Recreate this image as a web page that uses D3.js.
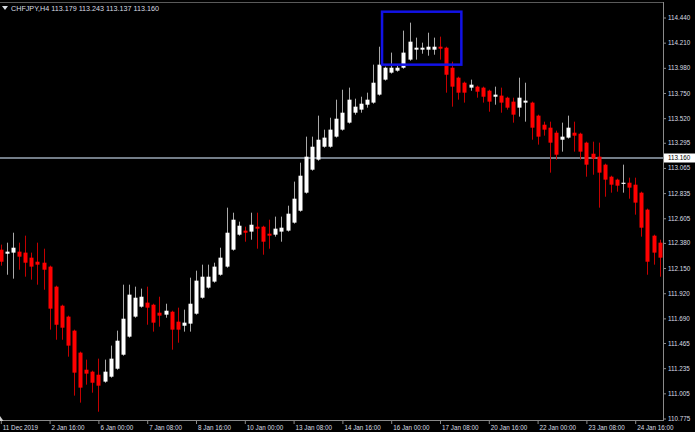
<!DOCTYPE html>
<html>
<head>
<meta charset="utf-8">
<script src="https://cdn.jsdelivr.net/npm/d3@7"></script>
<style>
  html, body { margin: 0; padding: 0; background: #000; }
  svg { display: block; }
</style>
</head>
<body>
<svg id="chart" width="695" height="432"></svg>
<script>
// ---- DATA (CHFJPY, H4) ----
const symbol = "CHFJPY,H4";
const headerValues = ["113.179", "113.243", "113.137", "113.160"];

const opens = [112.318,112.281,112.291,112.300,112.291,112.245,112.208,112.199,112.163,111.980,
111.806,111.706,111.578,111.377,111.221,111.203,111.175,111.112,111.157,111.230,
111.358,111.523,111.706,111.797,111.834,111.815,111.742,111.724,111.751,111.660,
111.623,111.642,111.733,111.879,111.971,112.026,112.089,112.163,112.318,112.455,
112.492,112.483,112.528,112.528,112.464,112.455,112.483,112.492,112.565,112.674,
112.839,113.049,113.141,113.259,113.259,113.351,113.415,113.479,113.570,113.598,
113.643,113.662,113.735,113.872,113.936,113.954,113.981,114.055,114.146,114.146,
114.146,114.146,114.173,114.164,113.981,113.890,113.844,113.799,113.808,113.799,
113.771,113.716,113.726,113.707,113.671,113.616,113.662,113.662,113.543,113.460,
113.433,113.387,113.323,113.342,113.387,113.378,113.296,113.195,113.168,113.095,
112.985,112.958,112.921,112.930,112.912,112.839,112.684,112.446,112.382];

const highs = [112.364,112.382,112.473,112.382,112.446,112.291,112.382,112.327,112.172,111.989,
111.815,111.715,111.587,111.386,111.313,111.212,111.322,111.313,111.441,111.578,
111.998,111.998,111.980,111.962,111.980,111.824,111.888,111.824,111.760,111.788,
111.770,112.062,112.126,112.181,112.181,112.199,112.336,112.702,112.656,112.574,
112.528,112.656,112.656,112.537,112.592,112.620,112.620,112.720,112.940,113.113,
113.351,113.351,113.543,113.415,113.524,113.689,113.780,113.799,113.698,113.716,
113.753,114.009,114.173,113.991,114.119,114.000,114.320,114.393,114.256,114.210,
114.301,114.256,114.265,114.173,114.036,113.899,113.854,113.872,113.817,113.808,
113.780,113.808,113.799,113.716,113.707,113.890,113.844,113.671,113.552,113.488,
113.488,113.406,113.479,113.543,113.488,113.387,113.305,113.305,113.296,113.104,
112.994,112.967,113.095,112.976,112.976,112.848,112.693,112.455,112.409];

const lows = [112.172,112.089,112.053,112.135,112.071,112.044,111.998,111.952,111.587,111.495,
111.495,111.340,110.984,110.920,111.084,111.011,110.837,111.102,111.148,111.221,
111.349,111.514,111.696,111.788,111.632,111.569,111.614,111.696,111.404,111.468,
111.569,111.569,111.724,111.870,111.962,112.016,112.080,112.153,112.309,112.446,
112.391,112.409,112.327,112.272,112.327,112.437,112.391,112.483,112.556,112.665,
112.830,113.040,113.131,113.250,113.250,113.342,113.406,113.470,113.552,113.570,
113.616,113.652,113.726,113.863,113.927,113.945,113.972,114.045,114.055,114.109,
114.091,114.100,114.055,113.753,113.625,113.689,113.662,113.771,113.707,113.662,
113.579,113.643,113.570,113.598,113.479,113.534,113.488,113.323,113.278,113.360,
113.022,113.141,113.214,113.333,113.214,113.141,112.985,113.003,112.702,112.802,
112.839,112.848,112.839,112.784,112.638,112.437,112.089,112.181,112.071];

const closes = [112.208,112.300,112.336,112.254,112.199,112.163,112.181,112.135,111.779,111.632,
111.605,111.441,111.194,111.057,111.185,111.102,111.075,111.203,111.322,111.486,
111.687,111.907,111.879,111.888,111.788,111.651,111.715,111.760,111.587,111.587,
111.651,111.824,112.035,112.071,112.071,112.163,112.245,112.473,112.592,112.537,
112.473,112.546,112.510,112.391,112.446,112.510,112.519,112.647,112.784,112.994,
113.168,113.259,113.323,113.342,113.415,113.515,113.570,113.689,113.625,113.652,
113.689,113.844,114.009,113.981,113.981,113.981,114.119,114.219,114.164,114.164,
114.173,114.173,114.155,113.917,113.808,113.753,113.753,113.826,113.762,113.716,
113.671,113.735,113.662,113.616,113.552,113.707,113.680,113.433,113.351,113.415,
113.296,113.186,113.351,113.433,113.360,113.214,113.095,113.150,113.022,112.958,
112.912,112.903,112.930,112.885,112.748,112.519,112.208,112.291,112.245];

const priceTicks = [114.440,114.210,113.980,113.750,113.520,113.295,113.065,112.835,
  112.605,112.380,112.150,111.920,111.690,111.465,111.235,111.005,110.775];

const timeTickBars = [0,8,16,24,32,40,48,56,64,72,80,88,96,104];
const timeTickLabels = ["11 Dec 2019","2 Jan 16:00","6 Jan 00:00","7 Jan 08:00","8 Jan 16:00",
  "10 Jan 00:00","13 Jan 08:00","14 Jan 16:00","16 Jan 00:00","17 Jan 08:00",
  "20 Jan 16:00","22 Jan 00:00","23 Jan 08:00","24 Jan 16:00"];

const currentPrice = 113.160;
const boxBars = [62.5, 75.5];
const boxPrices = [114.493, 114.009];

// ---- CHART ----
const W = 695, H = 432;
const plotRight = 663, plotBottom = 420;
const svg = d3.select("#chart");
svg.append("rect").attr("width", W).attr("height", H).attr("fill", "#000");

const n = opens.length;
const x = d3.scaleLinear().domain([0, n - 1]).range([0.8, 659.6]);
const y = d3.scaleLinear().domain([110.775, 114.440]).range([418.5, 17.5]);

const font = "'Liberation Sans', Arial, sans-serif";
const textColor = "#d9dde3";
const frameColor = "#8a8a8a";

// frame lines
svg.append("line").attr("x1", 0).attr("x2", plotRight).attr("y1", 2.5).attr("y2", 2.5)
  .attr("stroke", "#5a5a5a").attr("stroke-width", 1);
svg.append("line").attr("x1", plotRight + 0.5).attr("x2", plotRight + 0.5).attr("y1", 2).attr("y2", plotBottom + 1)
  .attr("stroke", frameColor).attr("stroke-width", 1);
svg.append("line").attr("x1", 0).attr("x2", plotRight + 1).attr("y1", plotBottom + 0.5).attr("y2", plotBottom + 0.5)
  .attr("stroke", frameColor).attr("stroke-width", 1);

// current price line
const cpY = Math.round(y(currentPrice));
svg.append("line").attr("x1", 0).attr("x2", plotRight).attr("y1", cpY).attr("y2", cpY)
  .attr("stroke", "#737d88").attr("stroke-width", 2);

// candles
const data = d3.range(n).map(i => ({i, o: opens[i], h: highs[i], l: lows[i], c: closes[i]}));
const g = svg.append("g");
const cg = g.selectAll("g.candle").data(data).join("g").attr("class", "candle");
cg.append("line")
  .attr("x1", d => Math.round(x(d.i)) + 0.5)
  .attr("x2", d => Math.round(x(d.i)) + 0.5)
  .attr("y1", d => y(d.h))
  .attr("y2", d => y(d.l))
  .attr("stroke", d => d.c >= d.o ? "#a9a9a9" : "#c40000")
  .attr("stroke-width", 1);
cg.append("rect")
  .attr("x", d => Math.round(x(d.i)) - 1.5)
  .attr("width", 4)
  .attr("y", d => Math.min(y(d.o), y(d.c)))
  .attr("height", d => Math.max(1.2, Math.abs(y(d.o) - y(d.c))))
  .attr("fill", d => d.c >= d.o ? "#ffffff" : "#ff0000");

// annotation box
svg.append("rect")
  .attr("x", x(boxBars[0])).attr("y", y(boxPrices[0]))
  .attr("width", x(boxBars[1]) - x(boxBars[0]))
  .attr("height", y(boxPrices[1]) - y(boxPrices[0]))
  .attr("fill", "none").attr("stroke", "#1212e6").attr("stroke-width", 2.5);

// right axis
const yAxis = d3.axisRight(y).tickValues(priceTicks).tickFormat(d3.format(".3f"))
  .tickSize(3).tickSizeOuter(0).tickPadding(2);
const ya = svg.append("g").attr("transform", `translate(${plotRight},0)`).call(yAxis);
ya.select(".domain").remove();
ya.selectAll("line").attr("stroke", frameColor);
ya.selectAll("text").attr("fill", textColor).style("font-family", font).style("font-size", "6.3px");

// current price label
const cpg = svg.append("g");
cpg.append("rect").attr("x", plotRight + 1).attr("y", cpY - 4.5).attr("width", 31).attr("height", 9)
  .attr("fill", "#ffffff");
cpg.append("text").attr("x", plotRight + 5).attr("y", cpY).attr("dy", "0.35em")
  .attr("fill", "#000").style("font-family", font).style("font-size", "6.3px")
  .text(d3.format(".3f")(currentPrice));

// bottom axis
const xAxis = d3.axisBottom(x).tickValues(timeTickBars)
  .tickFormat((d, k) => timeTickLabels[k]).tickSize(4).tickSizeOuter(0);
const xa = svg.append("g").attr("transform", `translate(0,${plotBottom})`).call(xAxis);
xa.select(".domain").remove();
xa.selectAll("line").attr("stroke", frameColor);
xa.selectAll("text").attr("fill", textColor).style("font-family", font).style("font-size", "6.3px")
  .attr("text-anchor", "start").attr("x", 1.5).attr("y", 5.5);

// little marker bottom-left
svg.append("path").attr("d", "M0,421 L3.5,421 L0,416 Z").attr("fill", "#cfcfcf");

// header
svg.append("path").attr("d", "M2,6 L8,6 L5,10 Z").attr("fill", textColor);
svg.append("text").attr("x", 11).attr("y", 10.5).attr("fill", textColor)
  .style("font-family", font).style("font-size", "7.2px")
  .text(symbol + " " + headerValues.join(" "));
</script>
</body>
</html>
